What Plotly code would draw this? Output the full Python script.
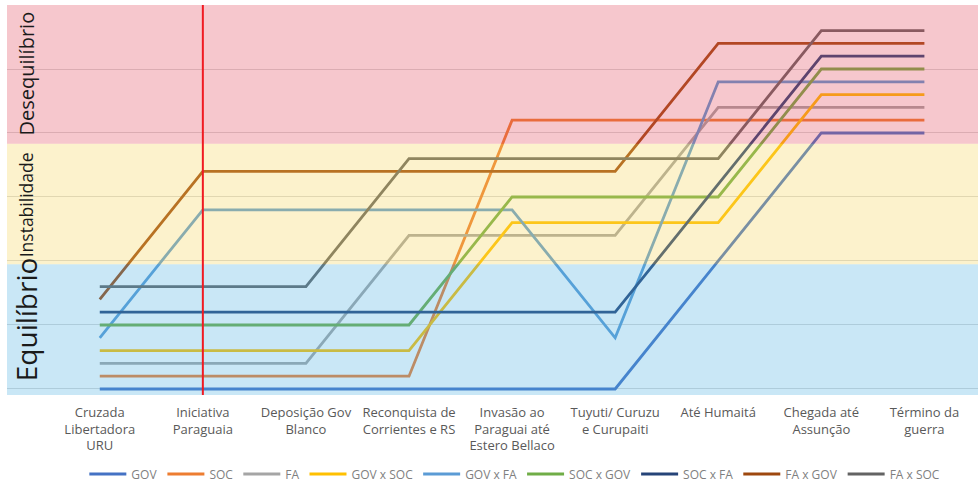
import plotly.graph_objects as go

# Event stages of the war (x categories)
stages = [
    "Cruzada<br>Libertadora<br>URU",
    "Iniciativa<br>Paraguaia",
    "Deposição Gov<br>Blanco",
    "Reconquista de<br>Corrientes e RS",
    "Invasão ao<br>Paraguai até<br>Estero Bellaco",
    "Tuyuti/ Curuzu<br>e Curupaiti",
    "Até Humaitá",
    "Chegada até<br>Assunção",
    "Término da<br>guerra",
]

# Level of each actor / relation at each stage
gov = [0, 0, 0, 0, 0, 0, 2, 4, 4]
soc = [0.2, 0.2, 0.2, 0.2, 4.2, 4.2, 4.2, 4.2, 4.2]
fa = [0.4, 0.4, 0.4, 2.4, 2.4, 2.4, 4.4, 4.4, 4.4]
gov_x_soc = [0.6, 0.6, 0.6, 0.6, 2.6, 2.6, 2.6, 4.6, 4.6]
gov_x_fa = [0.8, 2.8, 2.8, 2.8, 2.8, 0.8, 4.8, 4.8, 4.8]
soc_x_gov = [1.0, 1.0, 1.0, 1.0, 3.0, 3.0, 3.0, 5.0, 5.0]
soc_x_fa = [1.2, 1.2, 1.2, 1.2, 1.2, 1.2, 3.2, 5.2, 5.2]
fa_x_gov = [1.4, 3.4, 3.4, 3.4, 3.4, 3.4, 5.4, 5.4, 5.4]
fa_x_soc = [1.6, 1.6, 1.6, 3.6, 3.6, 3.6, 3.6, 5.6, 5.6]

series = [
    ("GOV", gov, "#4472C4"),
    ("SOC", soc, "#ED7D31"),
    ("FA", fa, "#A5A5A5"),
    ("GOV x SOC", gov_x_soc, "#FFC000"),
    ("GOV x FA", gov_x_fa, "#5B9BD5"),
    ("SOC x GOV", soc_x_gov, "#70AD47"),
    ("SOC x FA", soc_x_fa, "#264478"),
    ("FA x GOV", fa_x_gov, "#9E480E"),
    ("FA x SOC", fa_x_soc, "#636363"),
]

# Zones of the scale: (label, lower edge, upper edge, overlay colour)
y_min, y_max = -0.094, 6.0
zones = [
    ("Equilíbrio", y_min, 1.95, "rgba(75,175,225,0.30)"),
    ("Instabilidade", 1.95, 3.83, "rgba(245,212,85,0.30)"),
    ("Desequilíbrio", 3.83, y_max, "rgba(225,68,88,0.30)"),
]
marker_stage = 1  # "Iniciativa Paraguaia"

fig = go.Figure()
for name, vals, color in series:
    fig.add_trace(go.Scatter(
        x=stages, y=vals, name=name, mode="lines",
        line=dict(color=color, width=2.8),
    ))

# Translucent zone bands laid over the lines
for label, lo, hi, col in zones:
    fig.add_shape(type="rect", xref="paper", yref="y", x0=0, x1=1, y0=lo, y1=hi,
                  fillcolor=col, line_width=0, layer="above")

# Vertical marker at the Paraguayan initiative
fig.add_shape(type="line", xref="x", yref="paper", x0=marker_stage, x1=marker_stage,
              y0=0, y1=1, line=dict(color="#F01A22", width=2), layer="above")

# Zone titles (font size, vertical centre in axis units)
label_style = {
    "Desequilíbrio": dict(size=20, y=4.93),
    "Instabilidade": dict(size=17.5, y=2.87),
    "Equilíbrio": dict(size=28, y=1.09),
}
for label, lo, hi, col in zones:
    st = label_style[label]
    fig.add_annotation(text=label, xref="paper", yref="y",
                       x=(26 - 7) / 971, y=st["y"],
                       xanchor="center", yanchor="middle",
                       textangle=-90, showarrow=False,
                       font=dict(family="Open Sans", size=st["size"], color="#1a1a1a"))

fig.update_layout(
    width=979, height=484,
    margin=dict(l=7, r=1, t=5, b=89),
    paper_bgcolor="white", plot_bgcolor="white",
    font=dict(family="Open Sans", color="#595959", size=12),
    showlegend=True,
    legend=dict(orientation="h", x=0.523, xanchor="center",
                yref="container", y=(484 - 474) / 484, yanchor="middle",
                font=dict(size=12, color="#7F7F7F"), itemwidth=37,
                traceorder="normal"),
)
fig.update_xaxes(type="category", range=[-0.9, 8.52], showgrid=False,
                 zeroline=False, showline=False, ticks="outside", ticklen=5,
                 tickcolor="rgba(0,0,0,0)",
                 tickfont=dict(size=13, color="#595959"))
fig.update_yaxes(range=[y_min, y_max], dtick=1, tick0=0, showgrid=True,
                 gridcolor="#D9D9D9", gridwidth=1, zeroline=False,
                 showticklabels=False, showline=False)

fig.write_html("out.html")
